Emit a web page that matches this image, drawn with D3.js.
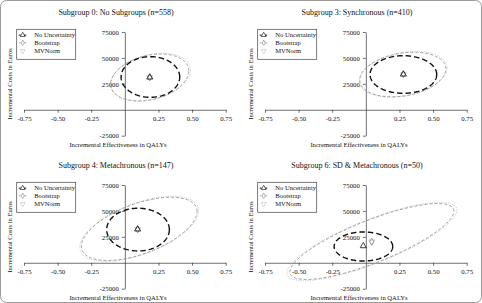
<!DOCTYPE html>
<html><head><meta charset="utf-8">
<script src="https://cdn.jsdelivr.net/npm/d3@7"></script>
<style>body{margin:0;background:#fff}svg{display:block}</style>
</head><body>
<script>
// ---------- DATA ----------
const panelTitles = [
  "Subgroup 0: No Subgroups (n=558)",
  "Subgroup 3: Synchronous (n=410)",
  "Subgroup 4: Metachronous (n=147)",
  "Subgroup 6: SD & Metachronous (n=50)"
];
const seriesNames = ["No Uncertainty", "Bootstrap", "MVNorm"];
const xTickValues = [-0.75, -0.5, -0.25, 0.25, 0.5, 0.75];
const xTickLabels = ["-0.75", "-0.50", "-0.25", "0.25", "0.50", "0.75"];
const yTickValues = [-25000, 25000, 50000, 75000];
const yTickLabels = ["-25000", "25000", "50000", "75000"];
const xLabel = "Incremental Effectiveness in QALYs";
const yLabel = "Incremental Costs in Euros";

// point estimates [panel][series]
const pointQALY = [[0.185, 0.185, 0.185], [0.279, 0.279, 0.279], [0.095, 0.095, 0.095], [-0.019, 0.043, 0.045]];
const pointCost = [[31300, 31300, 31300], [34200, 34200, 34200], [32300, 32300, 32300], [16200, 20300, 20300]];

// confidence ellipses [panel][series]: centre, half-width (QALY), half-height (EUR), correlation
const ellCenterQALY = [[0.19, 0.185, 0.19], [0.279, 0.275, 0.277], [0.098, 0.107, 0.107], [-0.018, 0.045, 0.045]];
const ellCenterCost = [[31600, 31150, 31400], [34000, 34000, 34200], [32000, 32700, 32700], [15700, 20500, 20500]];
const ellHalfQALY   = [[0.218, 0.29, 0.297], [0.248, 0.32, 0.327], [0.233, 0.43, 0.442], [0.218, 0.61, 0.632]];
const ellHalfCost   = [[19600, 22650, 23100], [18150, 21500, 22100], [20600, 30500, 31400], [14000, 36600, 37800]];
const ellCorr       = [[0, 0.28, 0.3], [0, 0.25, 0.28], [0, 0.55, 0.56], [0, 0.8, 0.8]];

// ---------- DRAW ----------
const W = 482, H = 303;
const FONT = "Liberation Serif, Times New Roman, serif";
const TXT = "#111";
const svg = d3.select("body").append("svg").attr("width", W).attr("height", H);
svg.append("rect").attr("x", 0.5).attr("y", 0.5).attr("width", W - 1).attr("height", H - 1)
  .attr("rx", 6).attr("fill", "#fff").attr("stroke", "#9a9a9a").attr("stroke-width", 1);

const panelLeft = [0, 241, 0, 241];
const panelTop = [0, 0, 153, 153];
const seriesColor = ["#111", "#888", "#c0c0c0"];
const seriesDash = ["5.5,3", "3,2", "1,1.3"];
const seriesWidth = [1.4, 0.8, 0.9];
const triUp = d3.symbol().type(d3.symbolTriangle).size(16)();
const diamond = d3.symbol().type(d3.symbolDiamond).size(14)();
const markerPath = [triUp, diamond, triUp];
const markerRot = [0, 0, 180];

panelTitles.forEach((title, i) => {
  const g = svg.append("g").attr("transform", `translate(${panelLeft[i]},${panelTop[i]})`);
  const x = d3.scaleLinear().domain([-0.75, 0.75]).range([24, 225.7]);
  const y = d3.scaleLinear().domain([-25000, 75000]).range([135.7, 32]);

  // title
  g.append("text").attr("x", 116).attr("y", 15).attr("text-anchor", "middle")
    .attr("font-family", FONT).attr("font-size", 8).attr("fill", TXT).text(title);

  // x axis through y = 0
  const xAxis = d3.axisBottom(x).tickValues(xTickValues)
    .tickFormat((d, k) => xTickLabels[k]).tickSize(3).tickSizeOuter(0).tickPadding(3);
  const gx = g.append("g").attr("transform", `translate(0,${y(0)})`).call(xAxis);
  // y axis through x = 0
  const yAxis = d3.axisLeft(y).tickValues(yTickValues)
    .tickFormat((d, k) => yTickLabels[k]).tickSize(3).tickSizeOuter(0).tickPadding(3);
  const gy = g.append("g").attr("transform", `translate(${x(0)},0)`).call(yAxis);
  [gx, gy].forEach(a => {
    a.selectAll("path,line").attr("stroke", "#333").attr("stroke-width", 0.7);
    a.selectAll("text").attr("font-family", FONT).attr("font-size", 6.8).attr("fill", TXT);
  });

  // axis labels
  g.append("text").attr("x", 118).attr("y", 146.5).attr("text-anchor", "middle")
    .attr("font-family", FONT).attr("font-size", 6.6).attr("fill", TXT).text(xLabel);
  g.append("text").attr("transform", `translate(12,84) rotate(-90)`).attr("text-anchor", "middle")
    .attr("font-family", FONT).attr("font-size", 6.6).attr("fill", TXT).text(yLabel);

  // ellipses (draw lightest first)
  const line = d3.line().x(d => x(d[0])).y(d => y(d[1])).curve(d3.curveLinearClosed);
  [2, 1, 0].forEach(s => {
    const cx = ellCenterQALY[i][s], cy = ellCenterCost[i][s];
    const rx = ellHalfQALY[i][s], ry = ellHalfCost[i][s], r = ellCorr[i][s];
    const pts = d3.range(0, 2 * Math.PI, Math.PI / 90).map(t =>
      [cx + rx * Math.cos(t), cy + ry * (r * Math.cos(t) + Math.sqrt(1 - r * r) * Math.sin(t))]);
    g.append("path").attr("d", line(pts)).attr("fill", "none")
      .attr("stroke", seriesColor[s]).attr("stroke-width", seriesWidth[s])
      .attr("stroke-dasharray", seriesDash[s]);
  });

  // point estimates
  [2, 1, 0].forEach(s => {
    g.append("path").attr("d", markerPath[s])
      .attr("transform", `translate(${x(pointQALY[i][s])},${y(pointCost[i][s])}) rotate(${markerRot[s]})`)
      .attr("fill", "none").attr("stroke", seriesColor[s]).attr("stroke-width", 0.8);
  });

  // legend
  const lg = g.append("g").attr("transform", "translate(16.7,29.3)");
  lg.append("rect").attr("width", 59).attr("height", 30).attr("fill", "#fff")
    .attr("stroke", "#444").attr("stroke-width", 0.7);
  const rowY = [5.8, 13.5, 21.7];
  seriesNames.forEach((name, s) => {
    const ry = rowY[s];
    if (s < 2) {
      lg.append("line").attr("x1", 2).attr("x2", 10.5).attr("y1", ry).attr("y2", ry)
        .attr("stroke", seriesColor[s]).attr("stroke-width", s === 0 ? 1 : 0.7)
        .attr("stroke-dasharray", "2,3.5");
    }
    lg.append("path").attr("d", markerPath[s])
      .attr("transform", `translate(6,${ry}) rotate(${markerRot[s]}) scale(0.8)`)
      .attr("fill", "none").attr("stroke", seriesColor[s]).attr("stroke-width", 0.8);
    lg.append("text").attr("x", 17.5).attr("y", ry + 2.2)
      .attr("font-family", FONT).attr("font-size", 6.6).attr("fill", TXT).text(name);
  });
});
</script>
</body></html>
